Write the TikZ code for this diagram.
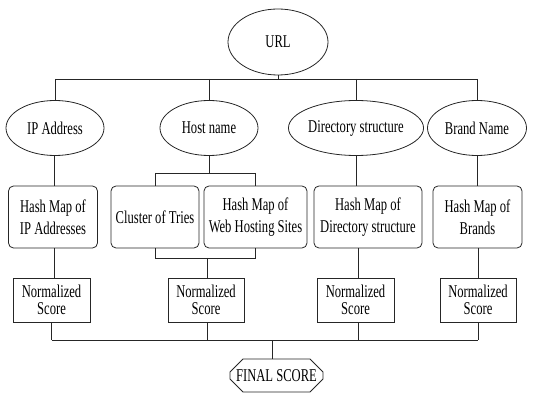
\documentclass[tikz,border=0pt]{standalone}
\usepackage{fontspec}
\setmainfont{Liberation Serif}[FakeStretch=0.7]
\usetikzlibrary{shapes.geometric,shapes.misc}
\begin{document}
\begin{tikzpicture}[x=1pt,y=1pt,
  every node/.style={font=\fontsize{18}{22}\selectfont, inner sep=0pt, align=center},
  ell/.style={draw=black!85, line width=0.8pt, ellipse},
  hbox/.style={draw=black!85, line width=0.8pt, rounded corners=5pt, minimum height=62pt},
  nbox/.style={draw=black!85, line width=0.9pt, minimum height=44pt, font=\fontsize{18}{17}\selectfont},
  conn/.style={draw=black!85, line width=0.9pt}
]
\useasboundingbox (0,0) rectangle (533,394);
% level 0
\node[ell, minimum width=100pt, minimum height=66pt] (url) at (278,352) {URL};
% level 1
\node[ell, minimum width=98pt, minimum height=55pt] (ip) at (55,266) {IP Address};
\node[ell, minimum width=98pt, minimum height=55pt] (host) at (209,266) {Host name};
\node[ell, minimum width=100pt, minimum height=55pt] (dir) at (356,266) {Directory structure};
\node[ell, minimum width=99pt, minimum height=55pt] (brand) at (477,266) {Brand Name};
% level 2
\node[hbox, minimum width=89pt] (hip) at (53,177) {Hash Map of\\IP Addresses};
\node[hbox, minimum width=88pt] (cot) at (155,177) {Cluster of Tries};
\node[hbox, minimum width=103pt] (hws) at (255.5,177) {Hash Map of\\Web Hosting Sites};
\node[hbox, minimum width=108pt] (hdir) at (368,177) {Hash Map of\\Directory structure};
\node[hbox, minimum width=89pt] (hbr) at (477.5,177) {Hash Map of\\Brands};
% level 3
\node[nbox, minimum width=77pt] (n1) at (51.5,94) {Normalized\\Score};
\node[nbox, minimum width=76pt] (n2) at (206,94) {Normalized\\Score};
\node[nbox, minimum width=77pt] (n3) at (355.5,94) {Normalized\\Score};
\node[nbox, minimum width=76pt] (n4) at (478,94) {Normalized\\Score};
% final
\node[draw=black!85, line width=0.8pt, chamfered rectangle, chamfered rectangle xsep=7pt, chamfered rectangle ysep=7pt, minimum width=93pt, minimum height=33pt] (fin) at (276.5,18.5) {FINAL SCORE};
% helper coordinates
\coordinate (tbar) at (0,315);
\coordinate (hb) at (0,221);
\coordinate (lb) at (0,136);
\coordinate (bbar) at (0,54);
% top bar
\path[conn] (url.south) -- (url.south |- tbar);
\path[conn] (ip.north |- tbar) -- (brand.north |- tbar);
\path[conn] (ip.north |- tbar) -- (ip.north);
\path[conn] (host.north |- tbar) -- (host.north);
\path[conn] (dir.north |- tbar) -- (dir.north);
\path[conn] (brand.north |- tbar) -- (brand.north);
% ellipses to hash maps
\path[conn] (hip.north -| 54,0) -- (54,0 |- ip.south);
\path[conn] (host.south) -- (host.south |- hb);
\path[conn] (cot.north |- hb) -- (hws.north |- hb);
\path[conn] (cot.north |- hb) -- (cot.north);
\path[conn] (hws.north |- hb) -- (hws.north);
\path[conn] (hdir.north -| dir.south) -- (dir.south);
\path[conn] (hbr.north -| brand.south) -- (brand.south);
% hash maps to normalized
\path[conn] (hip.south -| 54,0) -- (n1.north -| 54,0);
\path[conn] (cot.south) -- (cot.south |- lb) -- (hws.south |- lb) -- (hws.south);
\path[conn] (207,0 |- lb) -- (n2.north -| 207,0);
\path[conn] (hdir.south -| 358,0) -- (n3.north -| 358,0);
\path[conn] (hbr.south -| n4.north) -- (n4.north);
% bottom bar
\path[conn] (n1.south) -- (n1.south |- bbar);
\path[conn] (n2.south -| 207,0) -- (207,0 |- bbar);
\path[conn] (n3.south -| 358,0) -- (358,0 |- bbar);
\path[conn] (n4.south) -- (n4.south |- bbar);
\path[conn] (n1.south |- bbar) -- (n4.south |- bbar);
\path[conn] (fin.north -| 272,0) -- (272,0 |- bbar);
\end{tikzpicture}
\end{document}
